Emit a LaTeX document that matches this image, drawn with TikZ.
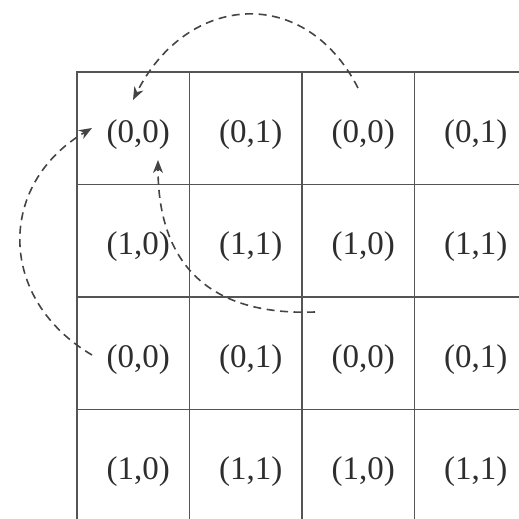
\documentclass[tikz,border=0pt]{standalone}
\usepackage{fontspec}
\setmainfont{Liberation Serif}
\usetikzlibrary{arrows.meta}
\definecolor{gridc}{HTML}{555555}
\definecolor{txtc}{HTML}{2E2E2E}
\definecolor{arcc}{HTML}{444444}
\begin{document}
\begin{tikzpicture}[x=1pt,y=-1pt,
  cell/.style={draw=gridc, line width=1.8pt, minimum width=112.5pt, minimum height=112.5pt, inner sep=0pt, outer sep=0pt},
  lbl/.style={font=\fontsize{33}{33}\selectfont, text=txtc, inner sep=1pt},
  arc/.style={draw=arcc, line width=1.6pt, dash pattern=on 8pt off 5.5pt, -{Stealth[length=13pt,width=10pt,inset=4pt]}}]
\useasboundingbox (0,0) rectangle (519,519);
\clip (0,0) rectangle (519,519);
\foreach \r in {0,...,3}{
  \foreach \c in {0,...,3}{
    \pgfmathtruncatemacro\a{mod(\r,2)}
    \pgfmathtruncatemacro\b{mod(\c,2)}
    \node[cell] (c\r\c) at ({133.25+112.5*\c},{128.25+112.5*\r}) {};
    \node[lbl] (t\r\c) at ([shift={(5,6)}]c\r\c.center) {(\a,\b)};
  }
}
\coordinate (s1) at (358,88);
\coordinate (e1) at (133,100);
\coordinate (s2) at (92,355);
\coordinate (e2) at (92,128);
\coordinate (s3) at (315,312);
\coordinate (e3) at (158,160);
\draw[arc] (s1) .. controls (305,-16) and (187,-7) .. (e1);
\draw[arc] (s2) .. controls (-3,299) and (-3,184) .. (e2);
\draw[arc] (s3) .. controls (205,316) and (158,260) .. (e3);
\end{tikzpicture}
\end{document}
